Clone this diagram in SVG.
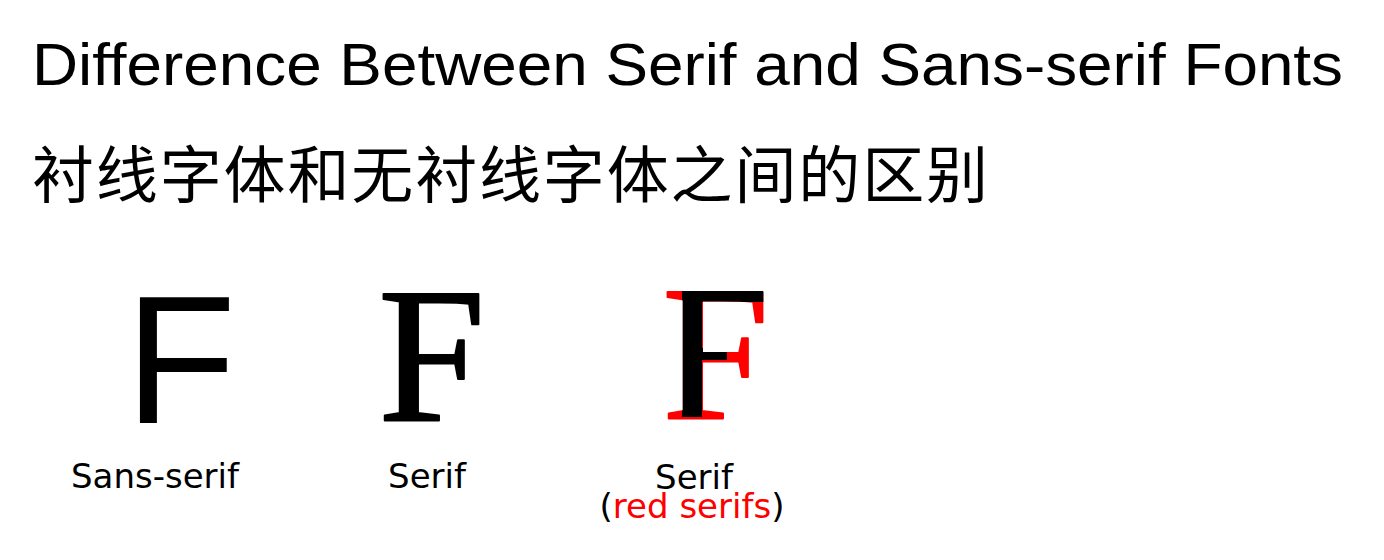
<svg xmlns="http://www.w3.org/2000/svg" width="1384" height="560" viewBox="0 0 1384 560">
<style>
.title{font-family:"Liberation Sans",Arial,sans-serif;font-size:60px;fill:#000}
.cjk{font-family:"Noto Sans CJK SC",sans-serif;font-size:62px;fill:#000}
.lbl{font-family:"DejaVu Sans",Verdana,sans-serif;font-size:34px;fill:#000;text-anchor:middle}
.fs{font-family:"Liberation Sans",Arial,sans-serif;font-size:182px}
.ff{font-family:"Liberation Serif","Times New Roman",serif;font-size:193px;stroke-width:2;stroke-linejoin:round}
</style>
<defs>
<clipPath id="core">
<rect x="682" y="290" width="20" height="127"/>
<rect x="682" y="290" width="90" height="12"/>
<rect x="702" y="348" width="25" height="12"/>
</clipPath>
</defs>
<rect width="1384" height="560" fill="#fff"/>
<g id="title">
<text class="title" x="32" y="85" textLength="1311" lengthAdjust="spacingAndGlyphs">Difference Between Serif and Sans-serif Fonts</text>
<text class="cjk" x="32" y="198" textLength="956" lengthAdjust="spacing">衬线字体和无衬线字体之间的区别</text>
</g>
<g id="sans">
<text class="fs" x="125" y="423">F</text>
<text class="lbl" x="155" y="488">Sans-serif</text>
</g>
<g id="serif">
<text class="ff" x="378" y="421" fill="#000" stroke="#000">F</text>
<text class="lbl" x="427" y="488">Serif</text>
</g>
<g id="serif-red">
<text class="ff" x="662" y="419" fill="#f00" stroke="#f00">F</text>
<text class="ff" x="662" y="419" fill="#000" stroke="#000" clip-path="url(#core)">F</text>
<text class="lbl" x="694" y="489">Serif</text>
<text class="lbl" x="692" y="518">(<tspan fill="#f00">red serifs</tspan>)</text>
</g>
</svg>
